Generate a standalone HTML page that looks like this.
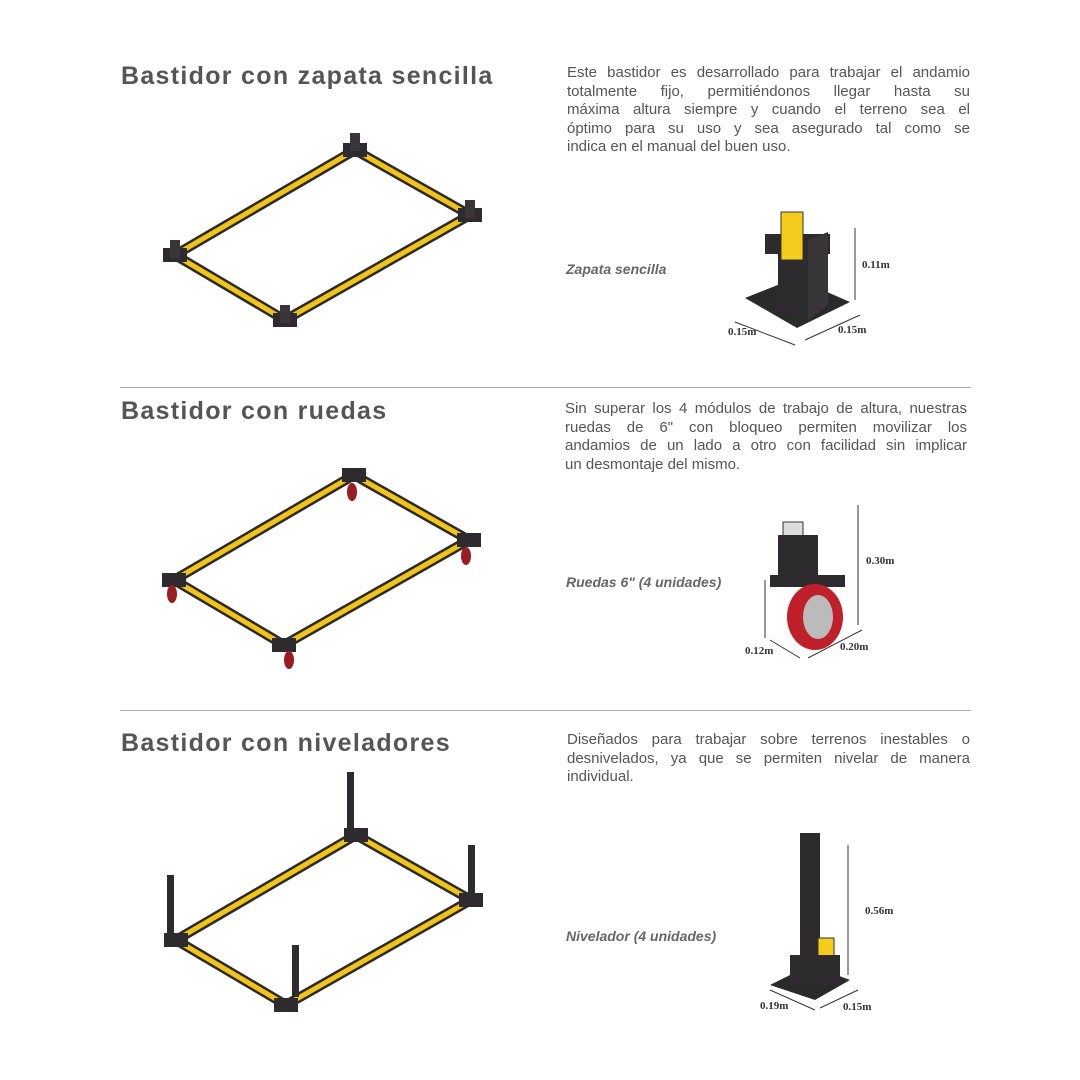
<!DOCTYPE html>
<html><head><meta charset="utf-8"><style>
body{margin:0;width:1080px;height:1080px;background:#fff;position:relative;font-family:"Liberation Sans",sans-serif;color:#58585a;overflow:hidden}
.t{position:absolute;left:121px;font-size:25px;font-weight:bold;color:#555;letter-spacing:1.3px}
.p{position:absolute;left:567px;width:403px;font-size:15px;line-height:18.5px;color:#555}
.p div{text-align:justify;text-align-last:justify;white-space:nowrap}
.p div.e{text-align-last:left}
.l{position:absolute;left:566px;font-size:14px;font-weight:bold;font-style:italic;color:#666}
.hr{position:absolute;left:120px;width:851px;height:1px;background:#aaa}
.d{position:absolute;font-size:11px;font-weight:bold;color:#333;font-family:"Liberation Serif",serif}
svg{position:absolute;left:0;top:0}
</style></head><body>
<div class="t" style="top:62px">Bastidor con zapata sencilla</div>
<div class="p" style="top:64px"><div>Este bastidor es desarrollado para trabajar el andamio</div><div>totalmente fijo, permitiéndonos llegar hasta su</div><div>máxima altura siempre y cuando el terreno sea el</div><div>óptimo para su uso y sea asegurado tal como se</div><div class="e">indica en el manual del buen uso.</div></div>
<div class="l" style="top:261px">Zapata sencilla</div>
<div class="hr" style="top:387px"></div>
<div class="t" style="top:397px">Bastidor con ruedas</div>
<div class="p" style="top:400px;left:565px;width:402px"><div>Sin superar los 4 módulos de trabajo de altura, nuestras</div><div>ruedas de 6" con bloqueo permiten movilizar los</div><div>andamios de un lado a otro con facilidad sin implicar</div><div class="e">un desmontaje del mismo.</div></div>
<div class="l" style="top:574px">Ruedas 6" (4 unidades)</div>
<div class="hr" style="top:710px"></div>
<div class="t" style="top:729px">Bastidor con niveladores</div>
<div class="p" style="top:731px"><div>Diseñados para trabajar sobre terrenos inestables o</div><div>desnivelados, ya que se permiten nivelar de manera</div><div class="e">individual.</div></div>
<div class="l" style="top:928px">Nivelador (4 unidades)</div>
<div class="d" style="left:862px;top:259px">0.11m</div>
<div class="d" style="left:728px;top:326px">0.15m</div>
<div class="d" style="left:838px;top:324px">0.15m</div>
<div class="d" style="left:866px;top:555px">0.30m</div>
<div class="d" style="left:745px;top:645px">0.12m</div>
<div class="d" style="left:840px;top:641px">0.20m</div>
<div class="d" style="left:865px;top:905px">0.56m</div>
<div class="d" style="left:760px;top:1000px">0.19m</div>
<div class="d" style="left:843px;top:1001px">0.15m</div>
<svg width="1080" height="1080">
<defs>
<g id="fr">
<polygon points="355,150 470,215 285,320 175,255" fill="none" stroke="#2a2a2a" stroke-width="10"/>
<polygon points="355,150 470,215 285,320 175,255" fill="none" stroke="#f2c318" stroke-width="5"/>
<g fill="#2e2b2e">
<rect x="343" y="143" width="24" height="14"/><rect x="458" y="208" width="24" height="14"/>
<rect x="273" y="313" width="24" height="14"/><rect x="163" y="248" width="24" height="14"/>
</g>
</g>
</defs>
<use href="#fr"/>
<g fill="#3a3538"><rect x="350" y="133" width="10" height="18"/><rect x="465" y="200" width="10" height="18"/><rect x="280" y="305" width="10" height="18"/><rect x="170" y="240" width="10" height="18"/></g>
<use href="#fr" transform="translate(-1,325)"/>
<g fill="#9b1c22"><ellipse cx="352" cy="492" rx="5" ry="9"/><ellipse cx="466" cy="556" rx="5" ry="9"/><ellipse cx="289" cy="660" rx="5" ry="9"/><ellipse cx="172" cy="594" rx="5" ry="9"/></g>
<use href="#fr" transform="translate(1,685)"/>
<g fill="#2e2b2e"><rect x="347" y="772" width="7" height="62"/><rect x="468" y="845" width="7" height="52"/><rect x="292" y="945" width="7" height="52"/><rect x="167" y="875" width="7" height="60"/></g>
<polygon points="745,298 795,278 850,302 797,328" fill="#2a2a2a"/>
<rect x="765" y="234" width="65" height="20" fill="#2e2b2e"/>
<polygon points="778,248 808,240 808,320 778,312" fill="#2e2b2e"/>
<polygon points="808,240 828,232 828,305 808,320" fill="#3a3538"/>
<rect x="781" y="212" width="22" height="48" fill="#f5cc1a" stroke="#333"/>
<g stroke="#333" fill="none" stroke-width="1"><line x1="855" y1="228" x2="855" y2="300"/><line x1="735" y1="322" x2="795" y2="345"/><line x1="805" y1="340" x2="860" y2="315"/></g>
<rect x="783" y="522" width="20" height="30" fill="#ddd" stroke="#333"/>
<rect x="778" y="535" width="40" height="45" fill="#2e2b2e"/>
<rect x="770" y="575" width="75" height="12" fill="#2e2b2e"/>
<ellipse cx="815" cy="617" rx="28" ry="33" fill="#c0202a"/>
<ellipse cx="818" cy="617" rx="15" ry="22" fill="#bbb"/>
<g stroke="#333" fill="none"><line x1="858" y1="505" x2="858" y2="625"/><line x1="765" y1="580" x2="765" y2="638"/><line x1="770" y1="640" x2="800" y2="658"/><line x1="808" y1="658" x2="862" y2="630"/></g>
<rect x="800" y="833" width="20" height="145" fill="#2e2b2e"/>
<rect x="818" y="938" width="16" height="26" fill="#f5cc1a" stroke="#333"/>
<polygon points="770,985 810,965 850,980 815,1000" fill="#2a2a2a"/>
<rect x="790" y="955" width="50" height="30" fill="#2e2b2e"/>
<g stroke="#333" fill="none"><line x1="848" y1="845" x2="848" y2="975"/><line x1="770" y1="990" x2="815" y2="1010"/><line x1="820" y1="1008" x2="858" y2="990"/></g>
</svg>
</body></html>
